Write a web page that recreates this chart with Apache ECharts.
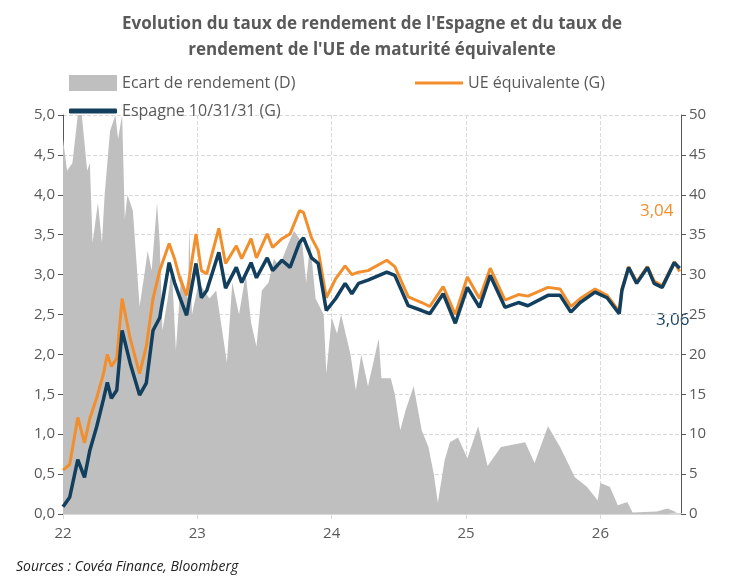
<!DOCTYPE html><html><head><meta charset="utf-8"><script src="https://cdn.jsdelivr.net/npm/echarts@6/dist/echarts.min.js"></script></head><body style="margin:0"><div id="c" style="width:744px;height:588px"></div><script>
const esDates=[22.00,22.05,22.11,22.16,22.20,22.25,22.30,22.33,22.36,22.40,22.44,22.50,22.57,22.62,22.67,22.72,22.79,22.83,22.87,22.92,22.99,23.03,23.07,23.16,23.21,23.29,23.33,23.40,23.44,23.52,23.56,23.63,23.69,23.76,23.79,23.85,23.90,23.96,24.03,24.10,24.15,24.20,24.27,24.41,24.47,24.57,24.67,24.73,24.83,24.92,25.01,25.10,25.18,25.29,25.39,25.46,25.61,25.70,25.78,25.85,25.96,26.05,26.14,26.16,26.21,26.27,26.35,26.40,26.46,26.55,26.59];
const espagne=[0.09,0.21,0.68,0.46,0.8,1.09,1.43,1.65,1.45,1.55,2.3,1.89,1.49,1.64,2.3,2.46,3.15,2.9,2.71,2.49,3.14,2.71,2.8,3.28,2.83,3.09,2.9,3.15,2.96,3.21,3.05,3.18,3.09,3.4,3.46,3.21,3.14,2.55,2.7,2.89,2.76,2.89,2.93,3.03,2.99,2.61,2.55,2.51,2.76,2.39,2.84,2.59,2.99,2.59,2.65,2.61,2.74,2.74,2.53,2.65,2.78,2.71,2.51,2.8,3.09,2.89,3.09,2.89,2.84,3.15,3.08];
const ue=[0.55,0.62,1.21,0.89,1.2,1.45,1.75,2.0,1.85,1.95,2.7,2.2,1.76,2.1,2.7,3.05,3.39,3.2,2.95,2.74,3.51,3.05,3.01,3.58,3.14,3.36,3.2,3.45,3.21,3.51,3.34,3.45,3.51,3.8,3.78,3.46,3.3,2.71,2.95,3.11,3.0,3.03,3.05,3.18,3.1,2.72,2.65,2.6,2.85,2.5,2.97,2.7,3.08,2.68,2.75,2.73,2.84,2.82,2.6,2.7,2.82,2.74,2.54,2.82,3.1,2.91,3.1,2.92,2.86,3.16,3.04];
const spDates=[22.00,22.03,22.07,22.11,22.14,22.18,22.20,22.22,22.26,22.29,22.31,22.35,22.39,22.41,22.44,22.46,22.48,22.52,22.57,22.61,22.63,22.66,22.70,22.72,22.74,22.78,22.81,22.84,22.88,22.93,22.94,22.96,23.01,23.09,23.14,23.22,23.26,23.31,23.36,23.40,23.44,23.48,23.53,23.57,23.61,23.68,23.72,23.78,23.81,23.84,23.88,23.94,23.96,24.00,24.04,24.07,24.14,24.18,24.22,24.27,24.35,24.37,24.44,24.47,24.51,24.55,24.61,24.67,24.72,24.76,24.79,24.84,24.88,24.94,25.01,25.09,25.16,25.26,25.44,25.51,25.61,25.70,25.81,25.90,25.98,26.00,26.07,26.13,26.20,26.24,26.42,26.50,26.57];
const spread=[47,43,44,50,50,43,44,34,39,34,40,48,50,47,50,37,40,38,26,30.5,33,30.5,39,34,23,27,31,20.5,30,27,36,25,29,27,28,19,29,25,30,24,21,28,29,32,31,34,35.5,34,29,34,27,25,17.6,24.6,22.6,25,20,15.5,20,16,22,17,17,15,10.5,13,16,10.5,8.4,5,1.4,6.7,9,9.6,7,11,6,8.4,9,6.4,11,8.4,4.6,3.4,1.7,3.9,3.4,1.1,1.5,0.2,0.3,0.7,0.2];
const z=(a,b)=>a.map((d,i)=>[d,b[i]]);
const txt='#595959';
const lf={fontSize:16,color:txt,fontFamily:'Open Sans'};
const c=echarts.init(document.getElementById('c'));
c.setOption({
title:{text:"Evolution du taux de rendement de l'Espagne et du taux de\nrendement de l'UE de maturité équivalente",left:'center',top:6,textStyle:{fontFamily:'Open Sans',fontSize:17,fontWeight:'bold',color:txt,lineHeight:26}},
legend:[{data:[{name:'Ecart de rendement (D)',icon:'rect'}],left:64,top:70,itemWidth:48,itemHeight:16,itemGap:4,textStyle:lf},
{data:[{name:'UE équivalente (G)',icon:'rect'}],left:410,top:70,itemWidth:48,itemHeight:3,textStyle:lf},
{data:[{name:'Espagne 10/31/31 (G)',icon:'roundRect'}],left:64,top:98,itemWidth:48,itemHeight:5,textStyle:lf}],
grid:{left:63,right:63,top:115,bottom:74},
xAxis:{type:'value',min:22,max:26.6,interval:1,axisLabel:{fontSize:15,color:txt,fontFamily:'Open Sans',margin:12,showMaxLabel:false},axisLine:{lineStyle:{color:'#d9d9d9',width:2}},axisTick:{show:true,lineStyle:{color:'#d9d9d9'}},splitLine:{show:true,lineStyle:{type:'dashed',color:'#d9d9d9'}}},
yAxis:[{type:'value',min:0,max:5,interval:0.5,axisLabel:{fontSize:15,color:txt,fontFamily:'Open Sans',formatter:v=>v.toFixed(1).replace('.',',')},splitLine:{lineStyle:{type:'dashed',color:'#d9d9d9'}}},
{type:'value',min:0,max:50,interval:5,axisLabel:{fontSize:15,color:txt,fontFamily:'Open Sans'},splitLine:{show:false}}],
series:[{name:'Ecart de rendement (D)',type:'line',yAxisIndex:1,data:z(spDates,spread),symbol:'none',lineStyle:{width:0},areaStyle:{color:'#bfbfbf',opacity:1},itemStyle:{color:'#bfbfbf'}},
{name:'UE équivalente (G)',type:'line',data:z(esDates,ue),symbol:'none',lineStyle:{width:3,color:'#f28e2b'},itemStyle:{color:'#f28e2b'}},
{name:'Espagne 10/31/31 (G)',type:'line',data:z(esDates,espagne),symbol:'none',lineStyle:{width:3.5,color:'#123f5e'},itemStyle:{color:'#123f5e'}}],
graphic:[{type:'text',left:640,top:203,style:{text:'3,04',fill:'#f28e2b',fontSize:17,fontFamily:'Open Sans'}},
{type:'text',left:656,top:312,style:{text:'3,06',fill:'#123f5e',fontSize:17,fontFamily:'Open Sans'}},
{type:'text',left:16,top:560,style:{text:'Sources : Covéa Finance, Bloomberg',fill:'#222',fontSize:14,fontStyle:'italic',fontFamily:'Open Sans'}}]
});
</script></body></html>
